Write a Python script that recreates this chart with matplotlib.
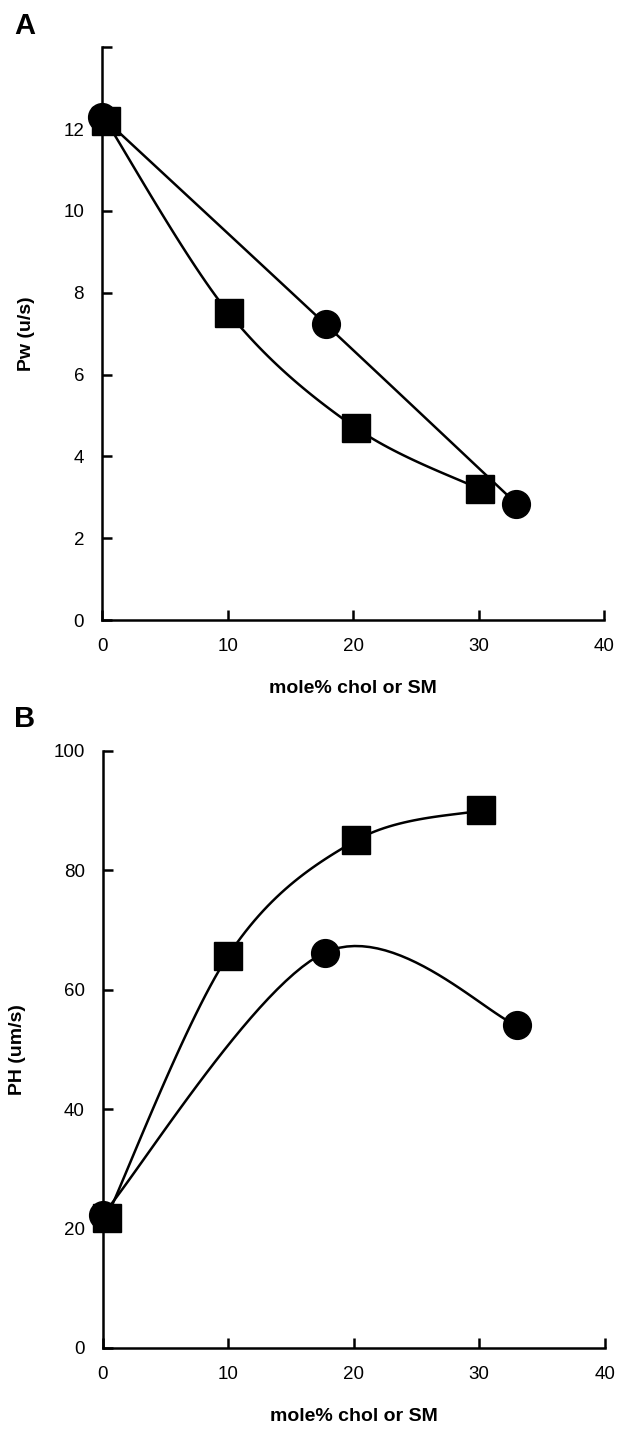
"""
Pw and PH vs mole% cholesterol / sphingomyelin, two stacked panels.
"""

import numpy as np
import matplotlib
matplotlib.use("Agg")
import matplotlib.pyplot as plt

plt.rcParams["font.family"] = ["Liberation Sans", "DejaVu Sans"]

# panel A: water permeability
pw_sq_x = [0.3, 10.1, 20.2, 30.1]
pw_sq_y = [12.2, 7.5, 4.7, 3.2]
pw_ci_x = [0.0, 17.8, 33.0]
pw_ci_y = [12.3, 7.23, 2.85]

# panel B: proton permeability
ph_sq_x = [0.3, 10.0, 20.2, 30.1]
ph_sq_y = [21.8, 65.7, 85.0, 90.0]
ph_ci_x = [0.0, 17.7, 33.0]
ph_ci_y = [22.3, 66.2, 54.0]

x_ticks = [0, 10, 20, 30, 40]
pw_ticks = [0, 2, 4, 6, 8, 10, 12, 14]
pw_labels = ["0", "2", "4", "6", "8", "10", "12", ""]
ph_ticks = [0, 20, 40, 60, 80, 100]


def catmull_rom(x, y, n=30):
    """Smooth curve through the points (uniform Catmull-Rom)."""
    p = np.column_stack([x, y]).astype(float)
    p = np.vstack([p[0], p, p[-1]])
    out = []
    t = np.linspace(0, 1, n)[:, None]
    for i in range(1, len(p) - 2):
        p0, p1, p2, p3 = p[i - 1], p[i], p[i + 1], p[i + 2]
        seg = 0.5 * (2 * p1 + (-p0 + p2) * t
                     + (2 * p0 - 5 * p1 + 4 * p2 - p3) * t ** 2
                     + (-p0 + 3 * p1 - 3 * p2 + p3) * t ** 3)
        out.append(seg if i == 1 else seg[1:])
    c = np.vstack(out)
    return c[:, 0], c[:, 1]


def style_axes(ax):
    for side in ["top", "right"]:
        ax.spines[side].set_visible(False)
    for side in ["left", "bottom"]:
        ax.spines[side].set_linewidth(1.8)
    ax.tick_params(direction="in", length=7, width=1.8, labelsize=13.5, pad=13)
    ax.set_xlim(0, 40)
    ax.set_xticks(x_ticks)
    ax.set_xlabel("mole% chol or SM", fontsize=14, fontweight="bold", labelpad=18)


def draw_series(ax, sx, sy, cx, cy):
    lx, ly = catmull_rom(cx, cy)
    ax.plot(lx, ly, color="black", linewidth=1.8, zorder=2, clip_on=False)
    lx, ly = catmull_rom(sx, sy)
    ax.plot(lx, ly, color="black", linewidth=1.8, zorder=2, clip_on=False)
    ax.plot(cx, cy, "o", color="black", markersize=20, zorder=3, clip_on=False)
    ax.plot(sx, sy, "s", color="black", markersize=19.5, zorder=4, clip_on=False)


fig = plt.figure(figsize=(6.19, 14.29), dpi=100)
fig.patch.set_facecolor("white")

# Panel A
ax1 = fig.add_axes([0.165, 0.566, 0.811, 0.401])
style_axes(ax1)
draw_series(ax1, pw_sq_x, pw_sq_y, pw_ci_x, pw_ci_y)
ax1.set_ylim(0, 14)
ax1.set_yticks(pw_ticks)
ax1.set_yticklabels(pw_labels)
ax1.set_ylabel("Pw (u/s)", fontsize=14, fontweight="bold", labelpad=20)
fig.text(0.04, 0.982, "A", fontsize=21, fontweight="bold", ha="center", va="center")

# Panel B
ax2 = fig.add_axes([0.166, 0.0567, 0.811, 0.418])
style_axes(ax2)
draw_series(ax2, ph_sq_x, ph_sq_y, ph_ci_x, ph_ci_y)
ax2.set_ylim(0, 100)
ax2.set_yticks(ph_ticks)
ax2.set_ylabel("PH (um/s)", fontsize=14, fontweight="bold", labelpad=20)
fig.text(0.04, 0.497, "B", fontsize=21, fontweight="bold", ha="center", va="center")

fig.savefig("out.png", dpi=100)
print("Saved: out.png")
